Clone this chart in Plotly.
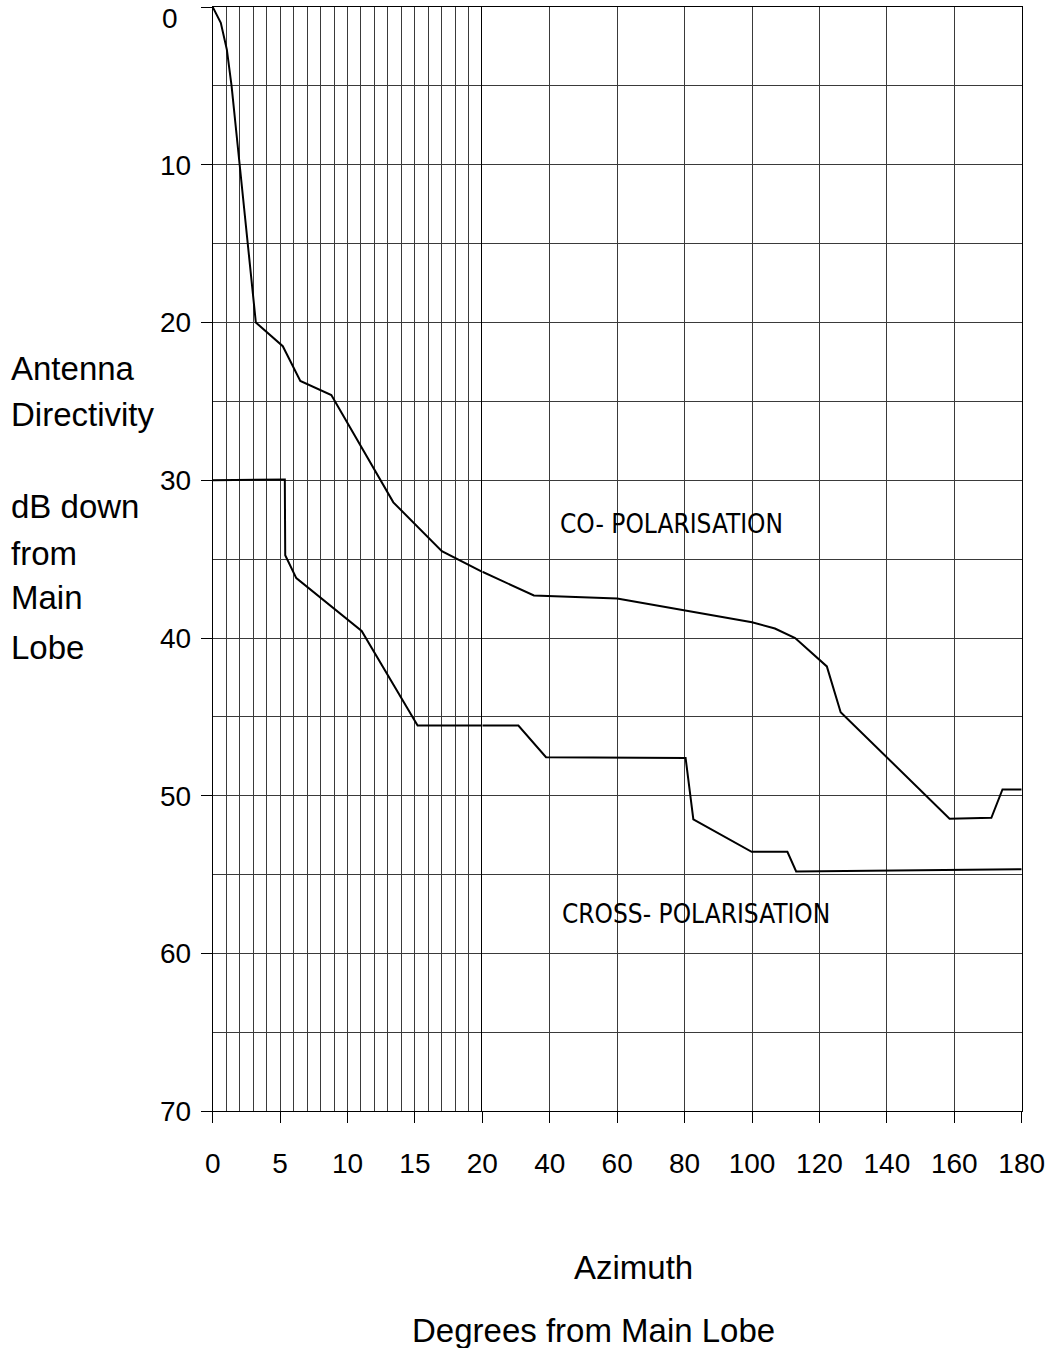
import plotly.graph_objects as go

# Antenna radiation pattern envelope (dB down from main lobe vs azimuth).
# The azimuth scale is expanded between 0 and 20 degrees, so each curve is
# split into a near-lobe part (0-20 deg) and a far part (20-180 deg).
co_near_deg = [0, 0.6, 1.05, 1.4, 2.0, 3.2, 5.2, 6.5, 8.8, 13.4, 17.0, 20]
co_near_db = [0, 1.0, 2.7, 5.0, 10.0, 20.0, 21.5, 23.7, 24.6, 31.4, 34.5, 35.8]
co_far_deg = [20, 35.3, 60, 100, 106.8, 112.8, 122.2, 126.3, 158.6, 171.0, 174.3, 180]
co_far_db = [35.8, 37.3, 37.5, 39.0, 39.4, 40.0, 41.8, 44.7, 51.45, 51.4, 49.6, 49.6]

cross_near_deg = [0, 5.35, 5.38, 6.2, 11.05, 15.2, 20]
cross_near_db = [30.0, 29.95, 34.75, 36.2, 39.55, 45.55, 45.55]
cross_far_deg = [20, 30.7, 38.9, 80.3, 82.6, 99.9, 110.5, 113.1, 180]
cross_far_db = [45.55, 45.55, 47.55, 47.6, 51.5, 53.55, 53.55, 54.8, 54.65]

db_ticks = [0, 10, 20, 30, 40, 50, 60, 70]
near_ticks = [0, 5, 10, 15, 20]
far_ticks = [20, 40, 60, 80, 100, 120, 140, 160, 180]

W, H = 1057, 1348
X_LEFT, X_SPLIT, X_RIGHT = 212.7, 482.3, 1021.7
Y_TOP, Y_BOT = 7.0, 1111.3

FONT = "Liberation Sans, Arial, sans-serif"
CONDENSED = "DejaVu Sans Condensed, Liberation Sans, sans-serif"
GRID = "#3a3a3a"


def px(x):
    return x / W


def py(y):
    return 1 - y / H


line_style = dict(color="black", width=2)

fig = go.Figure()
fig.add_trace(go.Scatter(x=co_near_deg, y=co_near_db, mode="lines", line=line_style,
                         xaxis="x", yaxis="y", showlegend=False))
fig.add_trace(go.Scatter(x=cross_near_deg, y=cross_near_db, mode="lines", line=line_style,
                         xaxis="x", yaxis="y", showlegend=False))
fig.add_trace(go.Scatter(x=co_far_deg, y=co_far_db, mode="lines", line=line_style,
                         xaxis="x2", yaxis="y2", showlegend=False))
fig.add_trace(go.Scatter(x=cross_far_deg, y=cross_far_db, mode="lines", line=line_style,
                         xaxis="x2", yaxis="y2", showlegend=False))

y_dom = [py(Y_BOT), py(Y_TOP)]
tick_font = dict(family=FONT, size=28, color="black")
db_minor = dict(tickmode="linear", tick0=0, dtick=5, showgrid=True,
                gridcolor=GRID, gridwidth=1, ticks="")

common_x = dict(
    showline=True, linecolor="black", linewidth=1, mirror=True,
    ticks="outside", ticklen=11, tickcolor="black", tickwidth=1,
    showgrid=True, gridcolor=GRID, gridwidth=1, zeroline=False,
    tickfont=tick_font, ticklabelstandoff=16, anchor="y", automargin=False,
)

fig.update_layout(
    width=W, height=H,
    margin=dict(l=0, r=0, t=0, b=0, pad=0),
    paper_bgcolor="white", plot_bgcolor="white",
    xaxis=dict(
        domain=[px(X_LEFT), px(X_SPLIT)], range=[0, 20],
        tickmode="array", tickvals=near_ticks, ticktext=[str(v) for v in near_ticks],
        minor=dict(tickmode="linear", tick0=0, dtick=1, showgrid=True,
                   gridcolor=GRID, gridwidth=1, ticks=""),
        **common_x,
    ),
    xaxis2=dict(
        domain=[px(X_SPLIT), px(X_RIGHT)], range=[20, 180],
        tickmode="array", tickvals=far_ticks,
        ticktext=[""] + [str(v) for v in far_ticks[1:]],
        **common_x,
    ),
    yaxis=dict(
        domain=y_dom, range=[70, 0], anchor="x", automargin=False,
        tickmode="array", tickvals=db_ticks,
        ticktext=[""] + [str(v) for v in db_ticks[1:]],
        minor=db_minor,
        showline=True, linecolor="black", linewidth=1,
        ticks="outside", ticklen=11, tickcolor="black", tickwidth=1,
        showgrid=True, gridcolor=GRID, gridwidth=1, zeroline=False,
        tickfont=tick_font, ticklabelstandoff=4,
    ),
    # frame of the far-azimuth panel: line at 20 deg and at 180 deg
    yaxis2=dict(
        domain=y_dom, range=[70, 0], anchor="x2", side="right", automargin=False,
        matches="y", showline=True, mirror=True, linecolor="black", linewidth=1,
        tickmode="array", tickvals=db_ticks, minor=db_minor,
        showticklabels=False, ticks="", showgrid=True, gridcolor=GRID, gridwidth=1,
        zeroline=False,
    ),
)

title_font = dict(family=FONT, size=33, color="black")
label_font = dict(family=CONDENSED, size=26, color="black")

annotations = [
    # top label of the dB scale, kept inside the page
    dict(text="0", x=px(160), xref="paper", y=0, yref="y", xanchor="left",
         yanchor="top", showarrow=False, font=tick_font, yshift=6),
    dict(text="CO- POLARISATION", x=px(671), y=py(524), xref="paper", yref="paper",
         xanchor="center", yanchor="middle", showarrow=False, font=label_font),
    dict(text="CROSS- POLARISATION", x=px(696), y=py(914), xref="paper", yref="paper",
         xanchor="center", yanchor="middle", showarrow=False, font=label_font),
    dict(text="Azimuth", x=px(633), y=py(1267), xref="paper", yref="paper",
         xanchor="center", yanchor="middle", showarrow=False, font=title_font),
    dict(text="Degrees from Main Lobe", x=px(593), y=py(1330), xref="paper", yref="paper",
         xanchor="center", yanchor="middle", showarrow=False, font=title_font),
]

y_title_lines = [("Antenna", 369), ("Directivity", 414), ("dB down", 506),
                 ("from", 553), ("Main", 598), ("Lobe", 647)]
for text, yc in y_title_lines:
    annotations.append(dict(text=text, x=px(9), y=py(yc), xref="paper", yref="paper",
                            xanchor="left", yanchor="middle", showarrow=False,
                            font=title_font))

fig.update_layout(annotations=annotations)

fig.write_html("out.html")
